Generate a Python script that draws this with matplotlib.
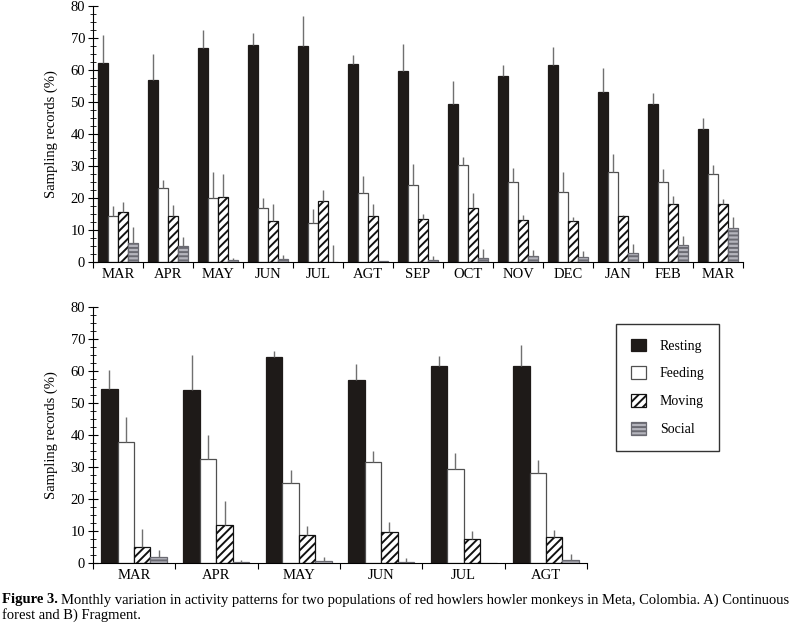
import numpy as np
import matplotlib
matplotlib.use("Agg")
import matplotlib.pyplot as plt
from matplotlib.patches import Patch
from matplotlib.ticker import MultipleLocator, FixedLocator, NullFormatter

plt.rcParams['font.family'] = ['Liberation Serif', 'DejaVu Serif']
plt.rcParams['hatch.linewidth'] = 1.4

# A) Continuous forest
months_a = ['MAR', 'APR', 'MAY', 'JUN', 'JUL', 'AGT', 'SEP', 'OCT', 'NOV', 'DEC', 'JAN', 'FEB', 'MAR']
rest_a = [62.2, 56.8, 66.9, 67.8, 67.4, 61.9, 59.8, 49.4, 58.0, 61.5, 53.0, 49.4, 41.5]
rest_a_err = [8.8, 8.3, 5.5, 3.9, 9.4, 2.9, 8.2, 7.2, 3.4, 5.7, 7.6, 3.4, 3.6]
feed_a = [14.4, 23.2, 20.0, 16.8, 12.2, 21.7, 24.2, 30.4, 25.0, 22.0, 28.0, 24.9, 27.6]
feed_a_err = [3.2, 2.3, 8.1, 3.2, 4.2, 5.1, 6.5, 2.4, 4.4, 6.2, 5.6, 4.3, 2.6]
move_a = [15.7, 14.3, 20.3, 12.8, 19.0, 14.5, 13.4, 16.8, 13.2, 12.7, 14.4, 18.2, 18.2]
move_a_err = [3.1, 3.6, 7.2, 5.4, 3.4, 3.7, 1.6, 4.8, 1.6, 1.2, 0.4, 2.5, 1.6]
soc_a = [6.0, 5.0, 0.5, 0.8, 0.0, 0.2, 0.7, 1.35, 2.0, 1.6, 2.8, 5.4, 10.6]
soc_a_err = [4.9, 2.7, 0.75, 1.3, 5.4, 0.0, 1.3, 2.65, 1.6, 1.8, 2.9, 2.7, 3.3]

# B) Fragment
months_b = ['MAR', 'APR', 'MAY', 'JUN', 'JUL', 'AGT']
rest_b = [54.3, 54.0, 64.4, 57.2, 61.5, 61.5]
rest_b_err = [6.1, 11.0, 1.85, 5.1, 3.3, 6.6]
feed_b = [37.9, 32.6, 25.0, 31.5, 29.5, 28.1]
feed_b_err = [7.6, 7.4, 4.1, 3.6, 4.9, 4.2]
move_b = [5.1, 11.9, 8.75, 9.6, 7.5, 8.2]
move_b_err = [5.5, 7.4, 2.95, 3.1, 2.6, 2.0]
soc_b = [1.8, 0.4, 0.5, 0.3, 0.1, 0.8]
soc_b_err = [2.1, 0.6, 1.4, 1.3, 0.0, 2.1]

activities = ['Resting', 'Feeding', 'Moving', 'Social']
styles = [
    dict(facecolor='#1e1a18', edgecolor='#1e1a18', hatch=None),
    dict(facecolor='white', edgecolor='#505050', hatch=None),
    dict(facecolor='white', edgecolor='#111111', hatch='////'),
    dict(facecolor='#b4b4bc', edgecolor='#6a6a72', hatch='----'),
]
offsets = [-0.3, -0.1, 0.1, 0.3]
width = 0.2


def draw_panel(ax, months, series, errors):
    x = np.arange(len(months))
    for off, vals, errs, st in zip(offsets, series, errors, styles):
        ax.bar(x + off, vals, width, linewidth=0.9, **st)
        ax.errorbar(x + off, vals, yerr=[np.zeros(len(errs)), errs], fmt='none',
                    ecolor='#707070', elinewidth=1.0, capsize=0)
    ax.set_xlim(-0.5, len(months) - 0.5)
    ax.set_ylim(0, 80)
    ax.spines['top'].set_visible(False)
    ax.spines['right'].set_visible(False)
    ax.yaxis.set_major_locator(MultipleLocator(10))
    ax.yaxis.set_minor_locator(MultipleLocator(2.5))
    ax.tick_params(axis='y', which='major', direction='inout', length=7, labelsize=10.5, pad=2)
    ax.tick_params(axis='y', which='minor', direction='inout', length=4)
    ax.xaxis.set_major_locator(FixedLocator(np.arange(len(months) + 1) - 0.5))
    ax.xaxis.set_major_formatter(NullFormatter())
    ax.xaxis.set_minor_locator(FixedLocator(x))
    ax.set_xticklabels(months, minor=True)
    ax.tick_params(axis='x', which='major', direction='out', length=4)
    ax.tick_params(axis='x', which='minor', length=0, labelsize=10.5, pad=4)
    ax.set_ylabel('Sampling records (%)', fontsize=10.5, labelpad=9)


fig = plt.figure(figsize=(8, 6.29), dpi=100)
ax_a = fig.add_axes([0.116, 0.5835, 0.813, 0.407])
ax_b = fig.add_axes([0.116, 0.105, 0.618, 0.407])

draw_panel(ax_a, months_a, [rest_a, feed_a, move_a, soc_a],
           [rest_a_err, feed_a_err, move_a_err, soc_a_err])
draw_panel(ax_b, months_b, [rest_b, feed_b, move_b, soc_b],
           [rest_b_err, feed_b_err, move_b_err, soc_b_err])

handles = [Patch(linewidth=0.9, label=lab, **st) for lab, st in zip(activities, styles)]
leg = fig.legend(handles=handles, loc='upper left', bbox_to_anchor=(616 / 800, 1 - 324 / 629),
                 frameon=True, fancybox=False, edgecolor='black', fontsize=10,
                 handlelength=1.1, handleheight=1.0, labelspacing=1.0, handletextpad=1.0,
                 borderpad=1.05, borderaxespad=0)
leg.get_frame().set_linewidth(1.0)

# caption
cap_size = 10.5
t1 = fig.text(0.003, 1 - 600 / 629, 'Figure 3.', fontsize=cap_size, fontweight='bold', va='center')
fig.canvas.draw()
bb = t1.get_window_extent()
fig.text(bb.x1 / 800 + 0.004, 1 - 600 / 629,
         'Monthly variation in activity patterns for two populations of red howlers howler monkeys '
         'in Meta, Colombia. A) Continuous', fontsize=cap_size, va='center')
fig.text(0.003, 1 - 615 / 629, 'forest and B) Fragment.', fontsize=cap_size, va='center')

fig.savefig('out.png', dpi=100)
